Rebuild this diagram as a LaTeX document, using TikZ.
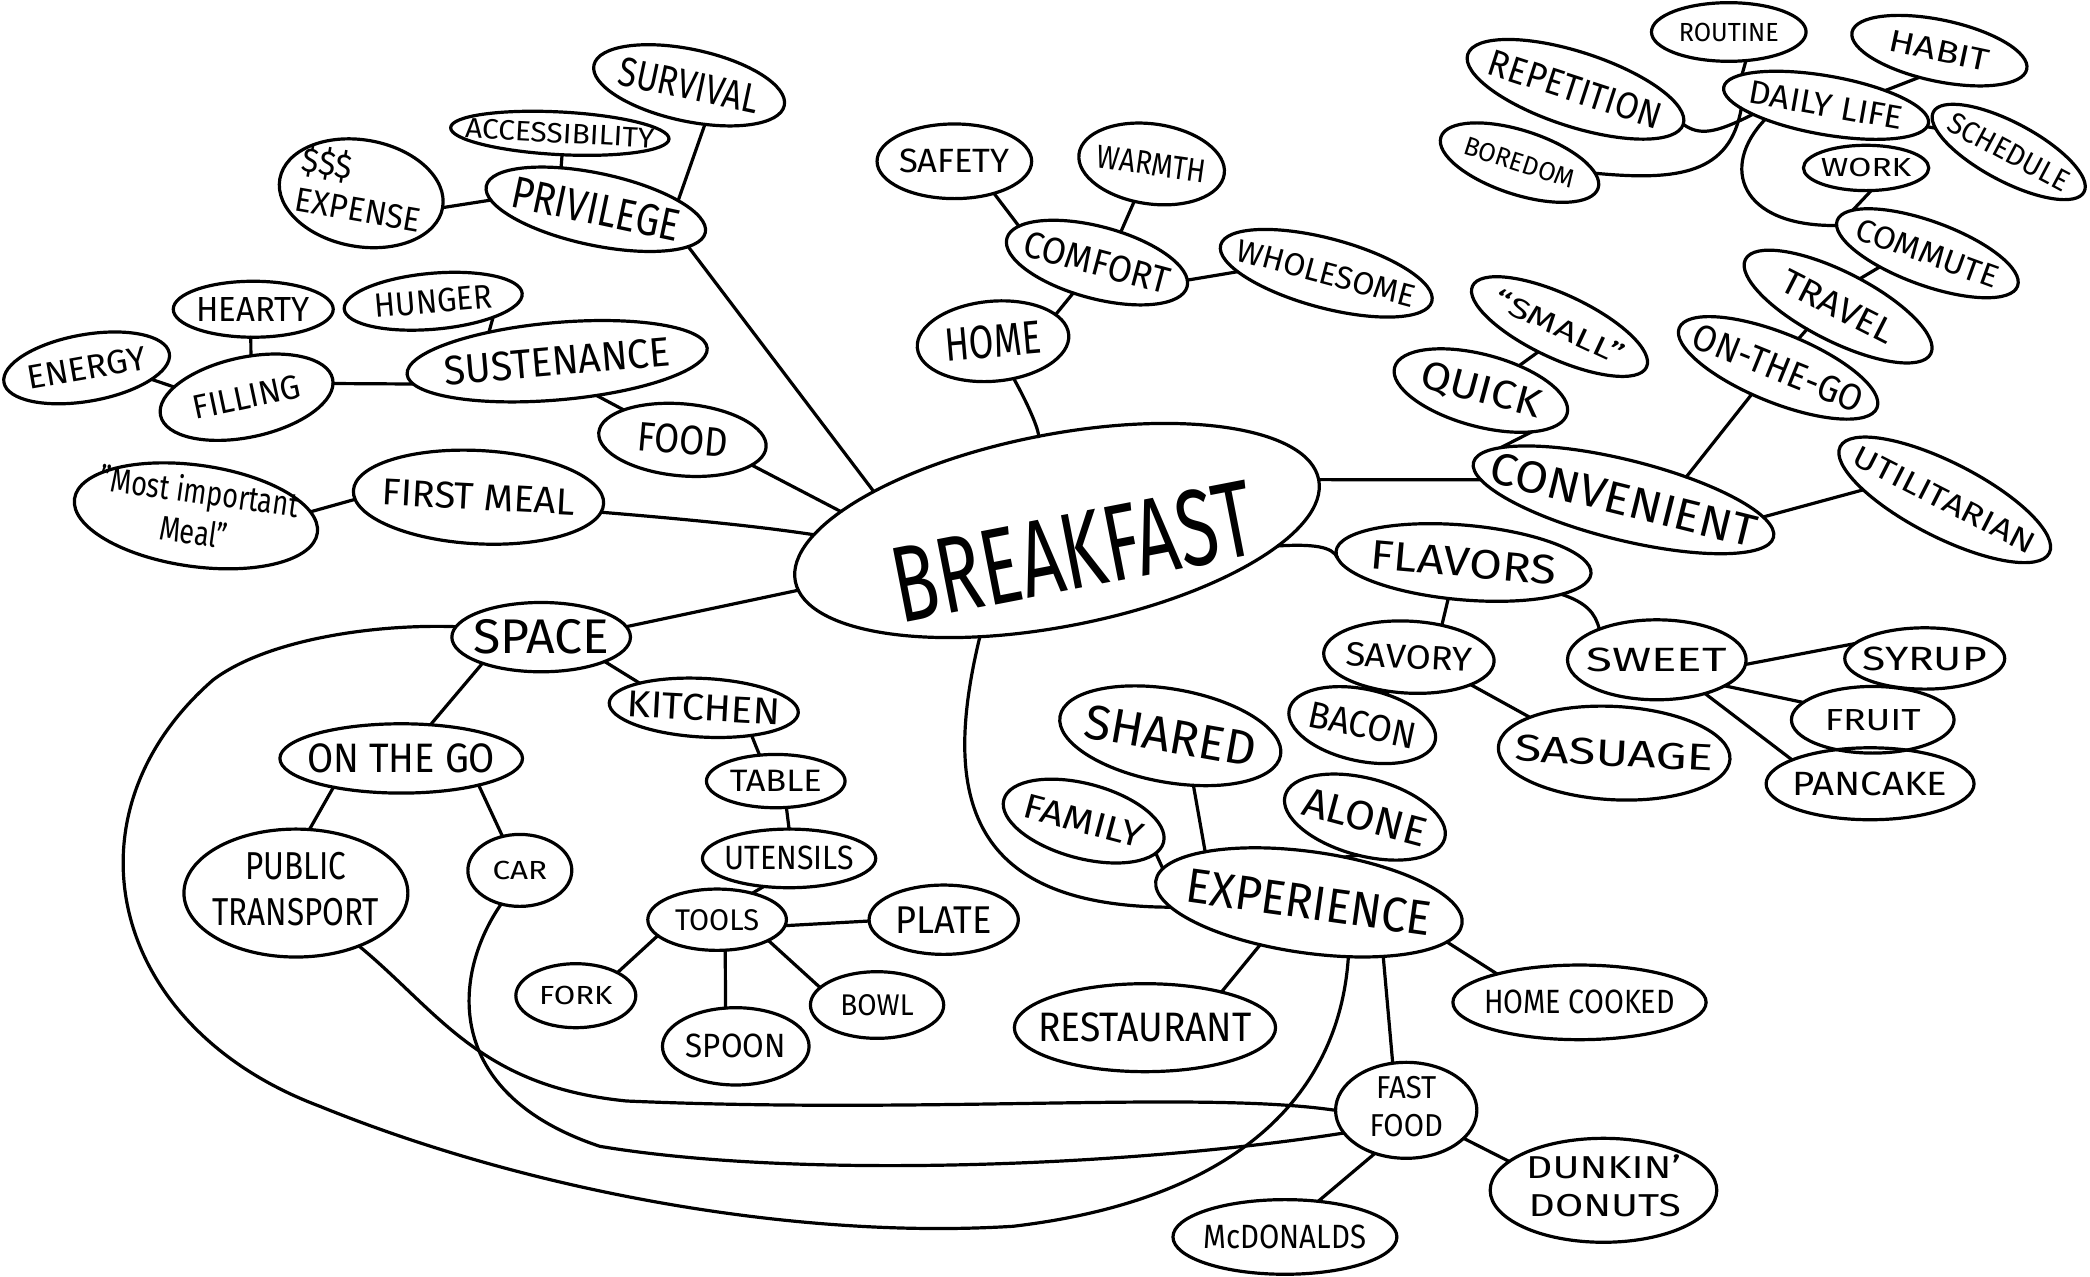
\documentclass[tikz,border=0pt]{standalone}
\usepackage{fontspec}
\setmainfont{Fira Sans}
\usepackage{graphicx}
\usetikzlibrary{shapes.geometric}
\tikzset{
  bub/.style={draw, ellipse, line width=1.2pt, inner sep=0pt, outer sep=0pt},
  lbl/.style={inner sep=0pt, outer sep=0pt},
  con/.style={line width=1.2pt, line cap=round},
}
% name, x, y, rx, ry, rotation, text width, text height, text
\newcommand\mbub[9]{%
  \node[bub, minimum width=#4pt, minimum height=#5pt, rotate=#6] (#1) at (#2,#3) {};
  \node[lbl, rotate=#6] (#1-t) at (#1.center) {\resizebox*{\dimexpr#7pt/2\relax}{\dimexpr#8pt/2\relax}{#9}};
}
\begin{document}
\begin{tikzpicture}[x=0.5pt, y=-0.5pt]
\fill[white] (0,0) rectangle (1568,958);
\useasboundingbox (0,0) rectangle (1568,958);

% ---- left top ----
\mbub{surv}{517}{64}{73}{27}{-12}{107}{22}{SURVIVAL}
\mbub{acc}{420}{100}{82}{16}{-3}{142}{15}{ACCESSIBILITY}
\mbub{exp}{271}{145}{62}{40}{-10}{95}{61}{\begin{tabular}{@{}l@{}}\$\$\$\\EXPENSE\end{tabular}}
\mbub{priv}{447}{157}{84}{27}{-12}{128}{24}{PRIVILEGE}
\mbub{hearty}{190}{232}{60}{21}{0}{85}{18}{HEARTY}
\mbub{hunger}{325}{226}{67}{21}{5}{88}{18}{HUNGER}
\mbub{energy}{65}{276}{63}{25}{10}{90}{18}{ENERGY}
\mbub{filling}{185}{298}{66}{30}{12}{82}{18}{FILLING}
\mbub{sust}{418}{271}{113}{29}{5}{170}{22}{SUSTENANCE}
\mbub{food}{512}{330}{63}{27}{-5}{68}{22}{FOOD}
\mbub{mim}{147}{387}{92}{38}{-8}{150}{62}{\begin{tabular}{@{}c@{}}"Most important\\Meal"\end{tabular}}
\mbub{first}{359}{373}{94}{35}{-3}{145}{20}{FIRST MEAL}

% ---- top middle ----
\mbub{safety}{716}{121}{58}{28}{0}{83}{18}{SAFETY}
\mbub{warmth}{864}{123}{55}{30}{-8}{82}{17}{WARMTH}
\mbub{comfort}{823}{197}{70}{27}{-15}{112}{20}{COMFORT}
\mbub{whole}{995}{205}{82}{26}{-15}{138}{17}{WHOLESOME}
\mbub{home}{745}{256}{57}{30}{5}{72}{25}{HOME}

% ---- centre ----
\node[bub, minimum width=200pt, minimum height=72pt, rotate=11] (bf) at (793,398) {};
\node[lbl, rotate=11] (bf-t) at (805,414) {\resizebox*{137pt}{29pt}{BREAKFAST}};

% ---- top right ----
\mbub{routine}{1297}{24}{58}{22}{0}{75}{14}{ROUTINE}
\mbub{habit}{1455}{38}{67}{23}{-12}{76}{16}{HABIT}
\mbub{rep}{1182}{67}{85}{28}{-18}{135}{20}{REPETITION}
\mbub{daily}{1370}{79}{78}{22}{-10}{117}{17}{DAILY LIFE}
\mbub{bored}{1140}{122}{62}{24}{-18}{86}{14}{BOREDOM}
\mbub{sched}{1507}{114}{64}{22}{-28}{100}{16}{SCHEDULE}
\mbub{work}{1400}{126}{47}{17}{0}{68}{14}{WORK}
\mbub{commute}{1446}{190}{72}{24}{-20}{112}{17}{COMMUTE}
\mbub{travel}{1379}{230}{78}{26}{-27}{92}{18}{TRAVEL}
\mbub{otgb}{1334}{276}{80}{26}{-22}{135}{20}{ON-THE-GO}
\mbub{small}{1170}{245}{72}{24}{-25}{105}{16}{``SMALL''}
\mbub{quick}{1111}{293}{67}{27}{-15}{92}{24}{QUICK}
\mbub{conv}{1218}{375}{116}{30}{-14}{205}{24}{CONVENIENT}
\mbub{util}{1459}{375}{88}{28}{-27}{150}{16}{UTILITARIAN}

% ---- flavors ----
\mbub{flav}{1098}{422}{96}{28}{-5}{140}{22}{FLAVORS}
\mbub{savory}{1057}{493}{64}{27}{-3}{95}{18}{SAVORY}
\mbub{sweet}{1243}{495}{67}{30}{0}{105}{18}{SWEET}
\mbub{syrup}{1444}{494}{60}{23}{0}{93}{18}{SYRUP}
\mbub{fruit}{1405}{540}{61}{25}{0}{72}{16}{FRUIT}
\mbub{sasu}{1211}{565}{87}{35}{-3}{149}{20}{SASUAGE}
\mbub{pancake}{1403}{588}{78}{27}{0}{116}{18}{PANCAKE}
\mbub{bacon}{1022}{544}{56}{27}{-12}{82}{20}{BACON}

% ---- space ----
\mbub{space}{406}{478}{67}{26}{0}{102}{26}{SPACE}
\mbub{kitchen}{528}{531}{71}{22}{-3}{115}{20}{KITCHEN}
\mbub{otg}{301}{569}{91}{26}{0}{141}{22}{ON THE GO}
\mbub{pt}{222}{670}{84}{48}{0}{125}{70}{\begin{tabular}{@{}c@{}}PUBLIC\\TRANSPORT\end{tabular}}
\mbub{car}{390}{653}{39}{27}{0}{41}{14}{CAR}
\mbub{table}{582}{586}{52}{20}{0}{69}{16}{TABLE}
\mbub{utens}{592}{644}{65}{22}{0}{97}{18}{UTENSILS}
\mbub{tools}{538}{690}{52}{23}{0}{63}{16}{TOOLS}
\mbub{plate}{708}{690}{56}{26}{0}{72}{20}{PLATE}
\mbub{bowl}{658}{754}{50}{25}{0}{55}{16}{BOWL}
\mbub{spoon}{552}{785}{55}{29}{0}{75}{18}{SPOON}
\mbub{fork}{432}{747}{45}{24}{0}{55}{14}{FORK}

% ---- experience ----
\mbub{shared}{878}{552}{84}{35}{-10}{130}{26}{SHARED}
\mbub{family}{813}{616}{62}{28}{-15}{92}{18}{FAMILY}
\mbub{alone}{1024}{613}{62}{29}{-15}{95}{22}{ALONE}
\mbub{exper}{982}{677}{116}{38}{-8}{185}{26}{EXPERIENCE}
\mbub{rest}{859}{771}{98}{33}{0}{160}{22}{RESTAURANT}
\mbub{homec}{1185}{752}{95}{28}{0}{143}{18}{HOME COOKED}
\mbub{fast}{1055}{833}{53}{36}{0}{55}{57}{\begin{tabular}{@{}c@{}}FAST\\FOOD\end{tabular}}
\mbub{mcd}{964}{928}{84}{28}{0}{122}{18}{McDONALDS}
\mbub{dunkin}{1203}{893}{85}{39}{0}{116}{57}{\begin{tabular}{@{}r@{}}DUNKIN'\\DONUTS\end{tabular}}

% ---- connectors ----
\draw[con] (surv.304) -- (priv.18);
\draw[con] (acc.279) -- (priv.142);
\draw[con] (exp.0) -- (priv.187);
\draw[con] (priv.350) -- (bf.157);
\draw[con] (hearty.265) -- (filling.72);
\draw[con] (hunger.340) -- (sust.152);
\draw[con] (energy.340) -- (filling.160);
\draw[con] (filling.357) -- (sust.184);
\draw[con] (sust.314) -- (food.158);
\draw[con] (food.345) -- (bf.164);
\draw[con] (mim.10) -- (first.184);
\draw[con] (first.356) .. controls (520,390) and (570,395) .. (bf.170);
\draw[con] (bf.182) -- (space.7);
\draw[con] (safety.321) -- (comfort.170);
\draw[con] (warmth.253) -- (comfort.67);
\draw[con] (comfort.4) -- (whole.194);
\draw[con] (comfort.247) -- (home.18);
\draw[con] (home.294) .. controls (775,310) and (782,330) .. (bf.91);
\draw[con] (bf.0) -- (conv.186);
\draw[con] (bf.345) .. controls (985,408) and (1000,410) .. (flav.183);
\draw[con] (quick.48) -- (small.255);
\draw[con] (quick.336) -- (conv.171);
\draw[con] (otgb.247) -- (conv.34);
\draw[con] (travel.243) -- (otgb.77);
\draw[con] (commute.216) -- (travel.79);
\draw[con] (work.283) -- (commute.170);
\draw[con] (daily.170) -- (routine.301);
\draw[con] (daily.24) -- (habit.245);
\draw[con] (daily.358) -- (sched.190);
\draw[con] (rep.0) .. controls (1275,102) and (1287,100) .. (daily.197);
\draw[con] (daily.192) .. controls (1298,130) and (1260,136) .. (bored.10);
\draw[con] (daily.203) .. controls (1290,125) and (1305,170) .. (commute.183);
\draw[con] (conv.7) -- (util.200);
\draw[con] (flav.252) -- (savory.47);
\draw[con] (flav.347) .. controls (1190,452) and (1197,460) .. (sweet.152);
\draw[con] (savory.237) -- (bacon.61);
\draw[con] (savory.339) -- (sasu.160);
\draw[con] (sweet.357) -- (syrup.168);
\draw[con] (sweet.339) -- (fruit.166);
\draw[con] (sweet.325) -- (pancake.163);
\draw[con] (bf.223) .. controls (708,590) and (720,680) .. (exper.190);
\draw[con] (shared.305) -- (exper.162);
\draw[con] (family.351) -- (exper.175);
\draw[con] (alone.275) -- (exper.60);
\draw[con] (exper.229) -- (rest.25);
\draw[con] (exper.352) -- (homec.161);
\draw[con] (exper.332) -- (fast.106);
\draw[con] (exper.314) .. controls (1005,820) and (930,900) .. (760,920)
  .. controls (600,930) and (400,895) .. (240,830)
  .. controls (80,770) and (45,610) .. (160,510)
  .. controls (200,480) and (280,468) .. (space.173);
\draw[con] (pt.320) .. controls (330,760) and (360,815) .. (470,826)
  .. controls (700,836) and (900,818) .. (fast.180);
\draw[con] (car.241) .. controls (340,730) and (330,820) .. (450,860)
  .. controls (600,885) and (850,875) .. (fast.200);
\draw[con] (fast.234) -- (mcd.47);
\draw[con] (fast.334) -- (dunkin.163);
\draw[con] (space.204) -- (otg.49);
\draw[con] (space.339) -- (kitchen.162);
\draw[con] (otg.203) -- (pt.78);
\draw[con] (otg.341) -- (car.117);
\draw[con] (kitchen.333) -- (table.122);
\draw[con] (table.292) -- (utens.90);
\draw[con] (utens.228) -- (tools.37);
\draw[con] (tools.355) -- (plate.181);
\draw[con] (tools.338) -- (bowl.163);
\draw[con] (tools.285) -- (spoon.105);
\draw[con] (tools.195) -- (fork.29);
\end{tikzpicture}
\end{document}
